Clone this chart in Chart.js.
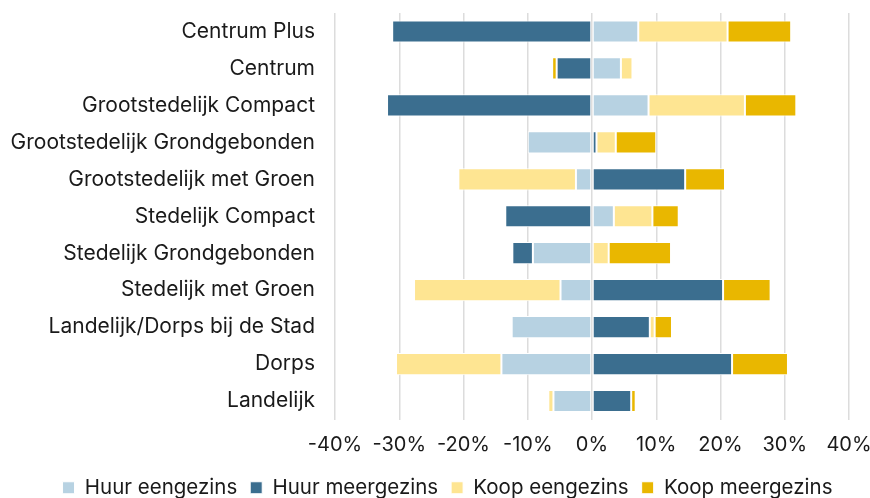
<!DOCTYPE html>
<html>
<head>
<meta charset="utf-8">
<script src="https://cdn.jsdelivr.net/npm/chart.js@4/dist/chart.umd.min.js"></script>
<style>
html,body{margin:0;padding:0;background:#fff;}
#wrap{width:870px;height:498px;}
</style>
</head>
<body>
<div id="wrap"><canvas id="c" width="870" height="498"></canvas></div>
<script>
const categories = ["Centrum Plus","Centrum","Grootstedelijk Compact","Grootstedelijk Grondgebonden","Grootstedelijk met Groen","Stedelijk Compact","Stedelijk Grondgebonden","Stedelijk met Groen","Landelijk/Dorps bij de Stad","Dorps","Landelijk"];
const huurEengezins  = [7.2, 4.5, 8.8, -10.0, -2.5, 3.4, -9.2, -4.9, -12.5, -14.1, -6.0];
const huurMeergezins = [-31.1, -5.5, -31.9, 0.7, 14.5, -13.5, -3.2, 20.4, 9.0, 21.8, 6.1];
const koopEengezins  = [13.9, 1.8, 15.0, 3.0, -18.3, 6.0, 2.6, -22.8, 0.75, -16.4, -0.8];
const koopMeergezins = [9.9, -0.7, 8.0, 6.3, 6.2, 4.1, 9.7, 7.4, 2.7, 8.7, 0.7];
const seriesNames = ["Huur eengezins","Huur meergezins","Koop eengezins","Koop meergezins"];
const tickValues = [-40,-30,-20,-10,0,10,20,30,40];

const colors = ["#b7d2e2","#3b6e8f","#fee592","#e9b700"];
const seriesData = [huurEengezins, huurMeergezins, koopEengezins, koopMeergezins];

Chart.defaults.font.family = "Inter, 'Noto Sans', sans-serif";
Chart.defaults.color = "#1a1a1a";

new Chart(document.getElementById('c'), {
  type: 'bar',
  data: {
    labels: categories,
    datasets: seriesNames.map((n,i)=>({
      label: n,
      data: seriesData[i],
      backgroundColor: colors[i],
      borderColor: '#ffffff',
      borderWidth: 1,
      borderSkipped: false,
      categoryPercentage: 1,
      barPercentage: 0.6
    }))
  },
  options: {
    indexAxis: 'y',
    responsive: false,
    animation: false,
    layout: {padding: {left: 0, right: -25, top: 13, bottom: -10}},
    plugins: {
      legend: {
        position: 'bottom',
        labels: {boxWidth: 12, boxHeight: 12, padding: 13, font: {size: 20.5}, color: '#1a1a1a'}
      },
      tooltip: {enabled: false}
    },
    scales: {
      x: {
        stacked: true,
        min: -40, max: 40,
        afterBuildTicks: (axis) => { axis.ticks = tickValues.map(v => ({value: v})); },
        afterFit: (axis) => { axis.paddingLeft = 0; axis.paddingRight = 21; axis.height -= 5; },
        ticks: {callback: v => v + '%', font: {size: 20}, color: '#1a1a1a', padding: 13},
        grid: {color: '#dcdcdc', lineWidth: 1.5, drawTicks: false},
        border: {display: false}
      },
      y: {
        stacked: true,
        afterFit: (axis) => { axis.width = 335; axis.paddingTop = 0; axis.paddingBottom = 0; },
        ticks: {font: {size: 21}, color: '#1a1a1a', padding: 20},
        grid: {display: false, drawTicks: false},
        border: {display: false}
      }
    }
  }
});
</script>
</body>
</html>
